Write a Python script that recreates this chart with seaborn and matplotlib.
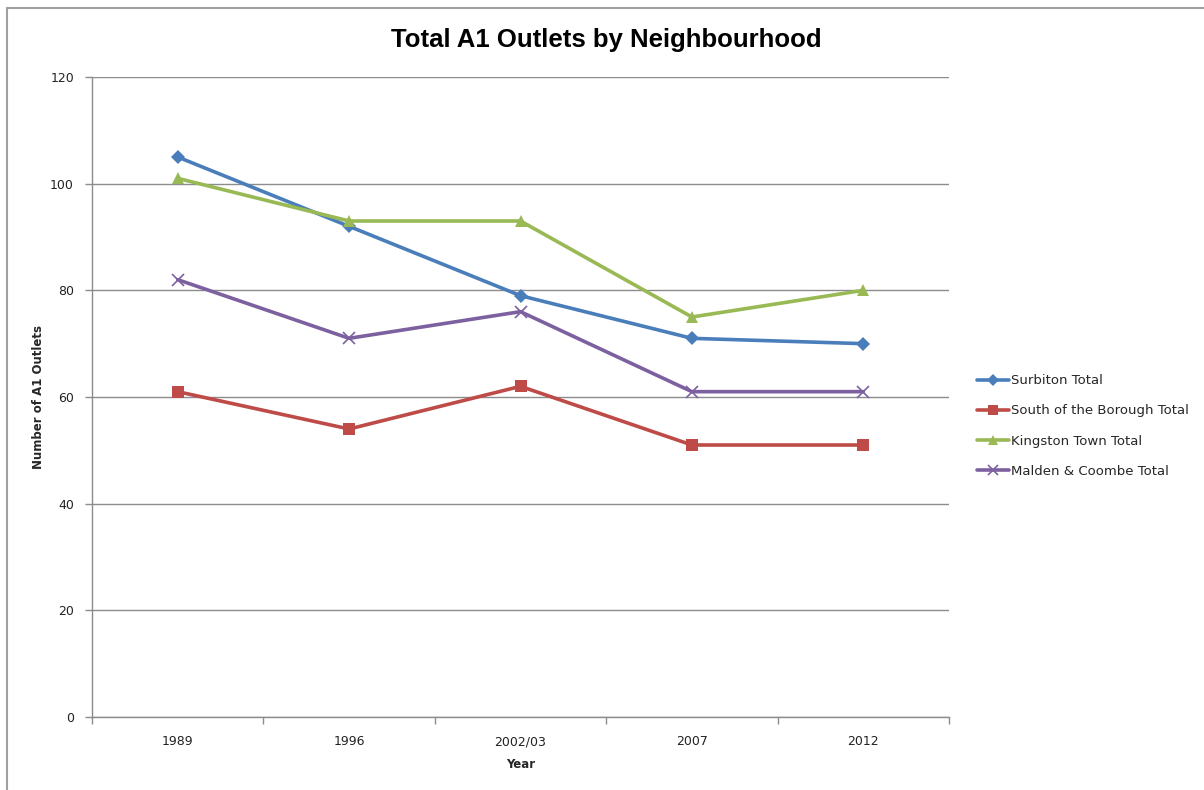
import matplotlib
matplotlib.use("Agg")
import matplotlib.pyplot as plt
from matplotlib.lines import Line2D
from matplotlib.ticker import FixedLocator, MultipleLocator
import seaborn as sns
import pandas as pd

years = ["1989", "1996", "2002/03", "2007", "2012"]
surbiton = [105, 92, 79, 71, 70]
south_borough = [61, 54, 62, 51, 51]
kingston_town = [101, 93, 93, 75, 80]
malden_coombe = [82, 71, 76, 61, 61]

series_names = ["Surbiton Total", "South of the Borough Total",
                "Kingston Town Total", "Malden & Coombe Total"]
series_values = [surbiton, south_borough, kingston_town, malden_coombe]
colors = ["#4A7EBB", "#BE4B48", "#98B954", "#7D60A0"]
markers = ["D", "s", "^", "x"]
marker_sizes = [7, 9, 9, 9]

rows = []
for name, vals in zip(series_names, series_values):
    for i, (yr, v) in enumerate(zip(years, vals)):
        rows.append({"pos": i, "Year": yr, "Outlets": v, "Series": name})
df = pd.DataFrame(rows)

sns.set_theme(style="white")
plt.rcParams["font.family"] = ["DejaVu Sans"]

fig = plt.figure(figsize=(12.04, 7.9), dpi=100)
ax = fig.add_axes([92 / 1204, 73 / 790, (949 - 92) / 1204, (717 - 77) / 790])

for name, col, mk, ms in zip(series_names, colors, markers, marker_sizes):
    sub = df[df["Series"] == name]
    sns.lineplot(data=sub, x="pos", y="Outlets", ax=ax, color=col,
                 linewidth=2.6, marker=mk, markersize=ms,
                 markeredgewidth=1.2 if mk == "x" else 0,
                 markeredgecolor=col, sort=False, legend=False, zorder=3)

ax.set_xlim(-0.5, len(years) - 0.5)
ax.set_ylim(0, 120)
ax.yaxis.set_major_locator(MultipleLocator(20))
ax.grid(axis="y", color="#8C8C8C", linewidth=1.0)
ax.set_axisbelow(True)

ax.set_xticks(range(len(years)))
ax.set_xticklabels(years, fontsize=9, color="#222222")
ax.xaxis.set_minor_locator(FixedLocator([i - 0.5 for i in range(len(years) + 1)]))
ax.tick_params(axis="x", which="major", length=0, pad=13)
ax.tick_params(axis="x", which="minor", length=5, width=1, color="#8C8C8C",
               direction="out", bottom=True)
ax.tick_params(axis="y", which="major", length=5, width=1, color="#8C8C8C",
               direction="out", left=True, labelsize=9, labelcolor="#222222", pad=8)

for side in ["top", "right"]:
    ax.spines[side].set_visible(False)
for side in ["left", "bottom"]:
    ax.spines[side].set_color("#8C8C8C")
    ax.spines[side].set_linewidth(1.0)

ax.set_xlabel("Year", fontsize=8.5, fontweight="bold")
ax.xaxis.set_label_coords(0.5, -(758 - 717) / 640, transform=ax.transAxes)
ax.set_ylabel("Number of A1 Outlets", fontsize=8.5, fontweight="bold")
ax.yaxis.set_label_coords((45 - 92) / 857, 0.5)

fig.text(606 / 1204, 1 - 40 / 790, "Total A1 Outlets by Neighbourhood",
         ha="center", va="center", fontsize=18.5, fontweight="bold", color="black",
         family=["Liberation Sans Narrow", "Liberation Sans", "DejaVu Sans"])

handles = [Line2D([], [], color=c, marker=m, markersize=ms * 0.85, linewidth=2.6,
                  markeredgewidth=1.2 if m == "x" else 0, markeredgecolor=c)
           for c, m, ms in zip(colors, markers, marker_sizes)]
fig.legend(handles, series_names, loc="center left",
           bbox_to_anchor=(965 / 1204, 1 - 426 / 790), frameon=False,
           fontsize=9.5, handlelength=2.4, handletextpad=0.15, labelspacing=1.3)

# chart-area border along the top and left edges
fig.add_artist(Line2D([7 / 1204, 7 / 1204], [0, 1 - 8 / 790],
                      transform=fig.transFigure, color="#A0A0A0", linewidth=1.5))
fig.add_artist(Line2D([7 / 1204, 1], [1 - 8 / 790, 1 - 8 / 790],
                      transform=fig.transFigure, color="#A0A0A0", linewidth=1.5))

fig.savefig("out.png", dpi=100)
